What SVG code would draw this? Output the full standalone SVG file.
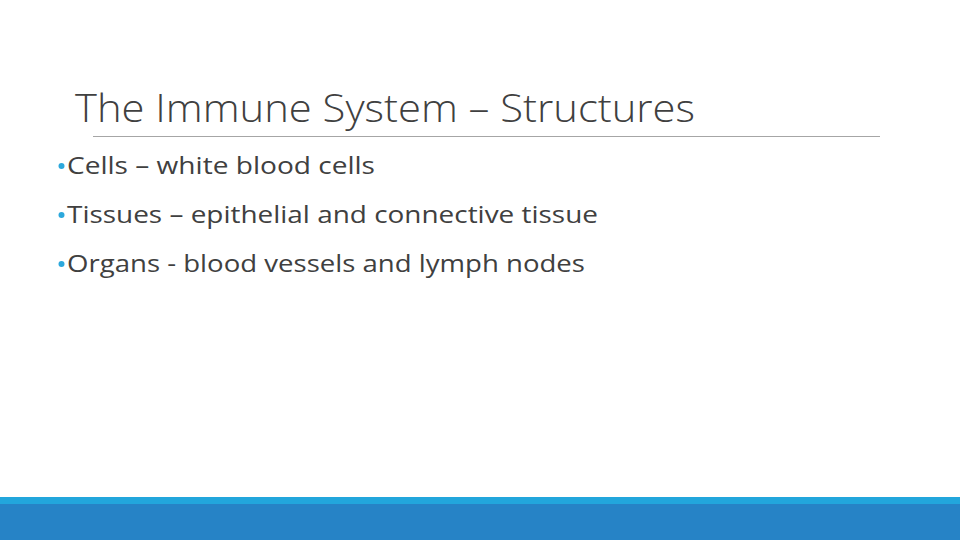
<svg xmlns="http://www.w3.org/2000/svg" width="960" height="540" viewBox="0 0 960 540">
<style>
.t{font-family:"Open Sans","Liberation Sans",sans-serif;fill:#404040}
.b{fill:#2ca8dc}
</style>
<rect width="960" height="540" fill="#fff"/>
<g id="title"><text class="t" x="75" y="122" font-size="38" font-weight="300" textLength="620" lengthAdjust="spacingAndGlyphs">The Immune System – Structures</text>
<line x1="93" y1="136.5" x2="880" y2="136.5" stroke="#a6a6a6" stroke-width="1"/></g>
<g id="bullets">
<circle class="b" cx="61.5" cy="166" r="3"/>
<text class="t" x="67" y="174" font-size="23" textLength="308" lengthAdjust="spacingAndGlyphs">Cells – white blood cells</text>
<circle class="b" cx="61.5" cy="215" r="3"/>
<text class="t" x="67" y="223" font-size="23" textLength="531" lengthAdjust="spacingAndGlyphs">Tissues – epithelial and connective tissue</text>
<circle class="b" cx="61.5" cy="264" r="3"/>
<text class="t" x="67" y="272" font-size="23" textLength="518" lengthAdjust="spacingAndGlyphs">Organs - blood vessels and lymph nodes</text>
</g>
<g id="footer"><rect x="0" y="497" width="960" height="7" fill="#22a6dc"/><rect x="0" y="504" width="960" height="36" fill="#2683c6"/></g>
</svg>
